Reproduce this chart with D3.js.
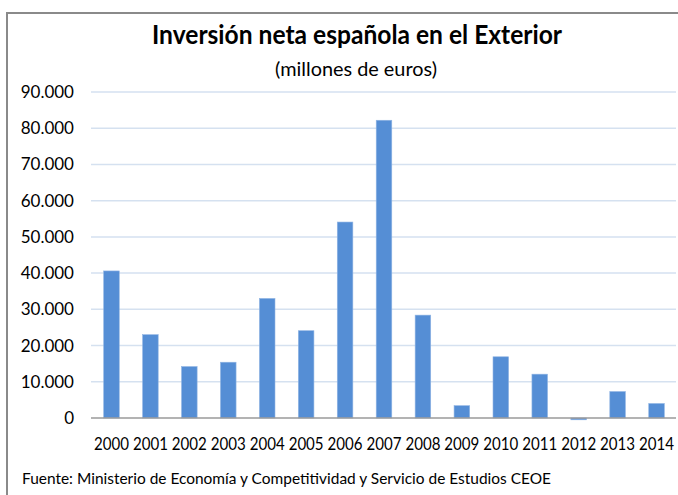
<!DOCTYPE html>
<html lang="es">
<head>
<meta charset="UTF-8">
<script src="https://d3js.org/d3.v7.min.js"></script>
<style>
body { margin: 0; background: #fff; }
text { font-family: "Lato", "Open Sans", sans-serif; fill: #000; }
</style>
</head>
<body>
<div id="chart"></div>
<script>
// data (millones de euros)
const years = ["2000","2001","2002","2003","2004","2005","2006","2007","2008","2009","2010","2011","2012","2013","2014"];
const inversion = [40600, 23000, 14200, 15400, 33000, 24100, 54100, 82200, 28400, 3400, 16900, 12100, -500, 7300, 4000];
const yTicks = [0, 10000, 20000, 30000, 40000, 50000, 60000, 70000, 80000, 90000];

const width = 678, height = 495;

const es = d3.formatLocale({decimal: ",", thousands: ".", grouping: [3], currency: ["", " €"]});
const fmt = es.format(",d");

const svg = d3.select("#chart").append("svg")
  .attr("width", width)
  .attr("height", height);

// outer frame (right and bottom edges fall outside the picture)
svg.append("rect")
  .attr("x", 7).attr("y", 13)
  .attr("width", 720).attr("height", 520)
  .attr("fill", "none")
  .attr("stroke", "#8a8a8a")
  .attr("stroke-width", 2);

const x = d3.scaleBand()
  .domain(years)
  .range([92, 676])
  .paddingInner(0.6)
  .paddingOuter(0.3);

const y = d3.scaleLinear()
  .domain([0, 90000])
  .range([418, 92]);

// gridlines
svg.append("g")
  .selectAll("line")
  .data(yTicks.filter(d => d !== 0))
  .join("line")
  .attr("x1", 91).attr("x2", 676)
  .attr("y1", d => y(d)).attr("y2", d => y(d))
  .attr("stroke", "#d5e1f0")
  .attr("stroke-width", 1.5);

// y labels
svg.append("g")
  .selectAll("text")
  .data(yTicks)
  .join("text")
  .attr("x", 74)
  .attr("y", d => y(d))
  .attr("dy", "0.35em")
  .attr("text-anchor", "end")
  .style("font-size", "17px")
  .text(d => fmt(d));

// bars
svg.append("g")
  .selectAll("rect")
  .data(years)
  .join("rect")
  .attr("x", d => x(d))
  .attr("width", x.bandwidth())
  .attr("y", (d, i) => y(Math.max(0, inversion[i])))
  .attr("height", (d, i) => Math.abs(y(inversion[i]) - y(0)))
  .attr("fill", "#558ed5")
  .attr("stroke", "#8fb4e3")
  .attr("stroke-width", 0.6);

// baseline
svg.append("line")
  .attr("x1", 91).attr("x2", 676)
  .attr("y1", y(0)).attr("y2", y(0))
  .attr("stroke", "#9a9a9a")
  .attr("stroke-width", 1.5);

// x labels
svg.append("g")
  .selectAll("text")
  .data(years)
  .join("text")
  .attr("x", d => x(d) + x.bandwidth() / 2)
  .attr("y", 450)
  .attr("text-anchor", "middle")
  .attr("textLength", 35)
  .attr("lengthAdjust", "spacingAndGlyphs")
  .style("font-size", "18px")
  .text(d => d);

// titles
svg.append("text")
  .attr("x", 357).attr("y", 44)
  .attr("text-anchor", "middle")
  .attr("textLength", 410)
  .attr("lengthAdjust", "spacingAndGlyphs")
  .style("font-size", "27px")
  .style("font-weight", "bold")
  .text("Inversión neta española en el Exterior");

svg.append("text")
  .attr("x", 356).attr("y", 76)
  .attr("text-anchor", "middle")
  .attr("textLength", 162)
  .attr("lengthAdjust", "spacingAndGlyphs")
  .style("font-size", "19px")
  .text("(millones de euros)");

// source
svg.append("text")
  .attr("x", 22).attr("y", 484)
  .attr("textLength", 529)
  .attr("lengthAdjust", "spacingAndGlyphs")
  .style("font-size", "16px")
  .text("Fuente: Ministerio de Economía y Competitividad y Servicio de Estudios CEOE");
</script>
</body>
</html>
